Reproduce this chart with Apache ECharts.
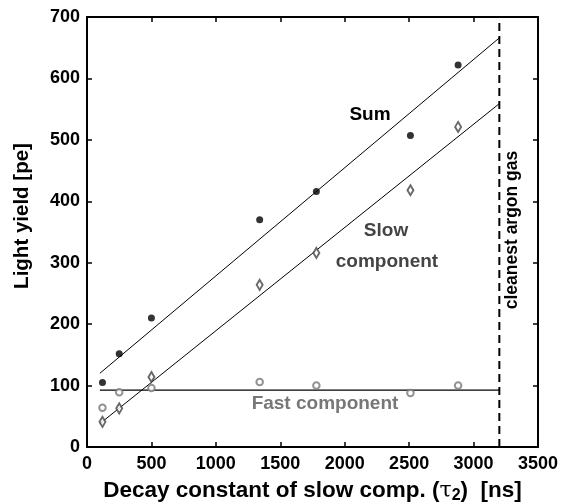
<!DOCTYPE html>
<html>
<head>
<meta charset="utf-8">
<script src="https://cdn.jsdelivr.net/npm/echarts@6/dist/echarts.min.js"></script>
<style>
html,body{margin:0;padding:0;background:#fff;}
#c{width:561px;height:504px;}
</style>
</head>
<body>
<div id="c"></div>
<script>
// ---- data ----
var tau2 = [120, 250, 500, 1340, 1780, 2510, 2880];
var sumYield = [105, 152, 210, 370, 416, 507, 622];
var slowYield = [41, 63, 114, 264, 316, 418, 521];
var fastYield = [64, 89, 96, 106, 100, 88, 100];
var fitX = [100, 3200];
var sumFit = [120, 666];
var slowFit = [38, 559];
var fastFit = [92.5, 92.5];
var cleanLimitX = [3200, 3200];
var cleanLimitY = [0, 700];
var xTicks = [0, 3500, 500];
var yTicks = [0, 700, 100];

function pairs(xs, ys) { return xs.map(function (x, i) { return [x, ys[i]]; }); }

var FONT = '"Liberation Sans", Arial, Helvetica, sans-serif';
var chart = echarts.init(document.getElementById('c'), null, { renderer: 'canvas' });

function axisCommon(extra) {
  var base = {
    type: 'value',
    axisLine: { show: true, onZero: false, lineStyle: { color: '#000', width: 2 } },
    axisTick: { show: true, inside: true, length: 5, lineStyle: { color: '#000', width: 1.5 } },
    splitLine: { show: false }
  };
  for (var k in extra) base[k] = extra[k];
  return base;
}
function plain(v) { return String(v); }

var option = {
  backgroundColor: '#fff',
  animation: false,
  grid: { left: 87, top: 17, right: 23, bottom: 57, containLabel: false, outerBoundsMode: 'none' },
  xAxis: [
    axisCommon({
      position: 'bottom', min: xTicks[0], max: xTicks[1], interval: xTicks[2],
      axisLabel: { color: '#000', fontSize: 18, fontWeight: 'bold', fontFamily: FONT, margin: 8, formatter: plain },
      name: '{a|Decay constant of slow comp. (}{t|τ}{s|2}{a|)  [ns]}',
      nameLocation: 'middle', nameGap: 31,
      nameTextStyle: {
        rich: {
          a: { fontSize: 22.5, fontWeight: 'bold', fontFamily: FONT, color: '#000' },
          t: { fontSize: 22, fontWeight: 'normal', fontFamily: 'DejaVu Serif, serif', color: '#000' },
          s: { fontSize: 16, fontWeight: 'bold', fontFamily: FONT, color: '#000', padding: [10, 0, 0, 0] }
        }
      }
    }),
    axisCommon({
      position: 'top', min: xTicks[0], max: xTicks[1], interval: xTicks[2],
      axisLabel: { show: false }
    })
  ],
  yAxis: [
    axisCommon({
      position: 'left', min: yTicks[0], max: yTicks[1], interval: yTicks[2],
      axisLabel: { color: '#000', fontSize: 18, fontWeight: 'bold', fontFamily: FONT, margin: 7, formatter: plain },
      name: 'Light yield [pe]', nameLocation: 'middle', nameGap: 54,
      nameTextStyle: { fontSize: 20.5, fontWeight: 'bold', fontFamily: FONT, color: '#000', padding: [0, 0, 0, 32] }
    }),
    axisCommon({
      position: 'right', min: yTicks[0], max: yTicks[1], interval: yTicks[2],
      axisLabel: { show: false }
    })
  ],
  series: [
    { type: 'line', data: pairs(fitX, sumFit), showSymbol: false, silent: true,
      lineStyle: { color: '#000', width: 1 }, z: 2 },
    { type: 'line', data: pairs(fitX, slowFit), showSymbol: false, silent: true,
      lineStyle: { color: '#000', width: 1 }, z: 2 },
    { type: 'line', data: pairs(fitX, fastFit), showSymbol: false, silent: true,
      lineStyle: { color: '#000', width: 1.2 }, z: 2 },
    { type: 'line', data: pairs(cleanLimitX, cleanLimitY), showSymbol: false, silent: true,
      lineStyle: { color: '#000', width: 2, type: [8, 5] }, z: 2 },
    { type: 'scatter', name: 'Sum', data: pairs(tau2, sumYield), symbol: 'circle', symbolSize: 7,
      itemStyle: { color: '#000' }, z: 5 },
    { type: 'scatter', name: 'Slow component', data: pairs(tau2, slowYield), symbol: 'diamond',
      symbolSize: [6, 10], itemStyle: { color: '#fff', borderColor: '#444', borderWidth: 2 }, z: 5 },
    { type: 'scatter', name: 'Fast component', data: pairs(tau2, fastYield), symbol: 'circle',
      symbolSize: 6.5, itemStyle: { color: '#fff', borderColor: '#777', borderWidth: 2 }, z: 5 }
  ],
  graphic: [
    { type: 'text', x: 370, y: 115, style: { text: 'Sum', fill: '#000', font: 'bold 19px ' + FONT, align: 'center', verticalAlign: 'middle' } },
    { type: 'text', x: 386, y: 231, style: { text: 'Slow', fill: '#444', font: 'bold 19px ' + FONT, align: 'center', verticalAlign: 'middle' } },
    { type: 'text', x: 387, y: 262, style: { text: 'component', fill: '#444', font: 'bold 19px ' + FONT, align: 'center', verticalAlign: 'middle' } },
    { type: 'text', x: 325, y: 404, style: { text: 'Fast component', fill: '#777', font: 'bold 19px ' + FONT, align: 'center', verticalAlign: 'middle' } },
    { type: 'text', x: 512, y: 230, rotation: Math.PI / 2, style: { text: 'cleanest argon gas', fill: '#000', font: 'bold 17.5px ' + FONT, align: 'center', verticalAlign: 'middle' } }
  ]
};
chart.setOption(option);
</script>
</body>
</html>
